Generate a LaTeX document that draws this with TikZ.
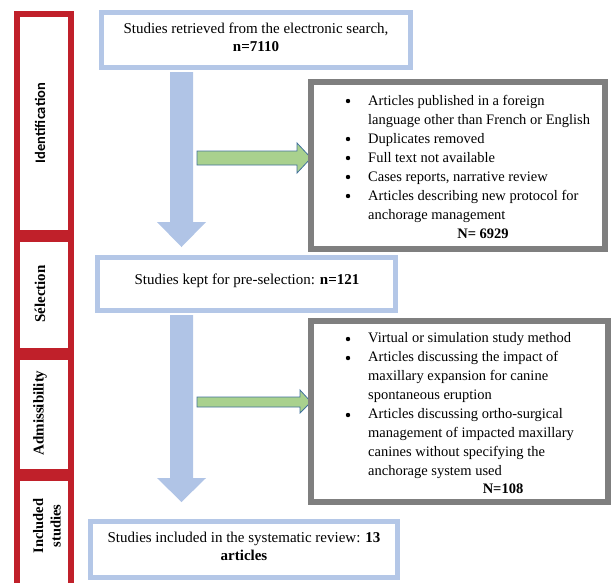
\documentclass[tikz,border=0pt]{standalone}
\usepackage{fontspec}
\setmainfont{Liberation Serif}
\newfontfamily\carlito{Carlito}
\definecolor{redbar}{HTML}{C0202A}
\definecolor{bluebox}{HTML}{B4C7E7}
\definecolor{bluearrow}{HTML}{B0C4E6}
\definecolor{greenfill}{HTML}{A9D18E}
\definecolor{greenline}{HTML}{41719C}
\definecolor{graybox}{HTML}{7F7F7F}
\tikzset{
  phase/.style={draw=redbar, line width=5.5pt},
  phaselabel/.style={rotate=90, font=\fontsize{15}{15}\selectfont\bfseries, align=center},
  mainbox/.style={draw=bluebox, line width=5pt, fill=white},
  excl/.style={draw=graybox, line width=5.5pt, fill=white},
  downarrow/.style={fill=bluearrow},
  sidearrow/.style={fill=greenfill, draw=greenline, line width=0.8pt},
  boxtext/.style={font=\fontsize{15}{18}\selectfont, align=center},
  listtext/.style={font=\fontsize{14.5}{19}\selectfont, anchor=north west, inner sep=0pt},
  bullet/.style={circle, fill=black, inner sep=0pt, minimum size=4.4pt}
}
\begin{document}
\begin{tikzpicture}[x=1pt,y=-1pt]
\useasboundingbox (0,0) rectangle (612,582);
\clip (0,0) rectangle (612,582);
% phase sidebar
\draw[phase] (17,14) rectangle (71,233);
\node[phaselabel, font=\carlito\fontsize{14.5}{15}\selectfont\bfseries] (lid) at (40,123) {Identification};
\draw[phase] (17,239) rectangle (71,351);
\node[phaselabel] (lsel) at (40,294) {Sélection};
\draw[phase] (17,357) rectangle (71,472);
\node[phaselabel] (ladm) at (40,413) {Admissibility};
\draw[phase] (17,478) rectangle (71,592);
\node[phaselabel, font=\fontsize{14.5}{17.5}\selectfont\bfseries] (linc) at (47,526) {Included\\studies};
% down arrows
\fill[downarrow] (170,72) -- (193,72) -- (193,222) -- (206,222) -- (181.5,247) -- (157,222) -- (170,222) -- cycle;
\fill[downarrow] (170,315) -- (193,315) -- (193,478) -- (206,478) -- (181.5,502) -- (157,478) -- (170,478) -- cycle;
% side arrows
\draw[sidearrow] (197,151) -- (297,151) -- (297,143) -- (311,158) -- (297,173) -- (297,165) -- (197,165) -- cycle;
\draw[sidearrow] (197,397) -- (300,397) -- (300,390) -- (311,402) -- (300,413) -- (300,407) -- (197,407) -- cycle;
% main boxes
\draw[mainbox] (101.5,12.5) rectangle (410.5,67.5);
\node[boxtext] (b1) at (256,37) {Studies retrieved from the electronic search,\\\textbf{n=7110}};
\draw[mainbox] (97.5,257.5) rectangle (395.5,310.5);
\node[boxtext] (b2) at (247,281) {Studies kept for pre-selection: \textbf{n=121}};
\draw[mainbox] (90.5,521.5) rectangle (397.5,577.5);
\node[boxtext] (b3) at (244,546) {Studies included in the systematic review: \textbf{13}\\\textbf{articles}};
% exclusion boxes
\draw[excl] (311,82) rectangle (605,249);
\node[listtext] (e1) at (368,91.5) {%
\begin{tabular}{@{}l@{}}
Articles published in a foreign\\
language other than French or English\\
Duplicates removed\\
Full text not available\\
Cases reports, narrative review\\
Articles describing new protocol for\\
anchorage management
\end{tabular}};
\foreach \yy in {101,139,158,177,196} \node[bullet] at (348,\yy) {};
\node[font=\fontsize{14.5}{16}\selectfont\bfseries] (n1) at (483,234) {N= 6929};
\draw[excl] (311,321) rectangle (608,502);
\node[listtext] (e2) at (368,329) {%
\begin{tabular}{@{}l@{}}
Virtual or simulation study method\\
Articles discussing the impact of\\
maxillary expansion for canine\\
spontaneous eruption\\
Articles discussing ortho-surgical\\
management of impacted maxillary\\
canines without specifying the\\
anchorage system used
\end{tabular}};
\foreach \yy in {339,358,415} \node[bullet] at (348,\yy) {};
\node[font=\fontsize{14.5}{16}\selectfont\bfseries] (n2) at (503,489) {N=108};
\end{tikzpicture}
\end{document}
